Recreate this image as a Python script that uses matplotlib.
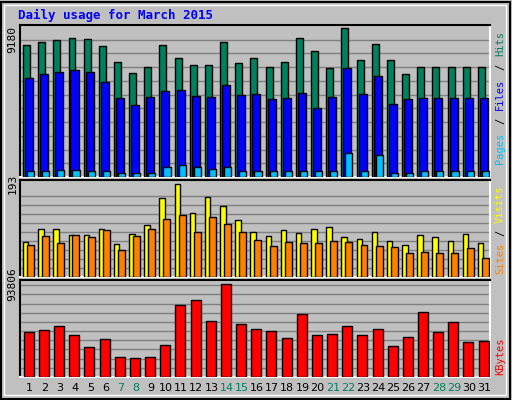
import matplotlib
matplotlib.use("Agg")
import matplotlib.pyplot as plt
import numpy as np

days = list(range(1, 32))
weekends = [7, 8, 14, 15, 21, 22, 28, 29]
hits = [8810, 9010, 9150, 9280, 9210, 8740, 7700, 6970, 7370, 8810, 7940, 7470, 7470, 9010, 7600, 7940, 7340, 7670, 9280, 8440, 7270, 9930, 7840, 8870, 7840, 6900, 7340, 7340, 7340, 7340, 7340]
files = [6600, 6870, 7000, 7140, 7000, 6330, 5260, 4790, 5320, 5730, 5800, 5400, 5320, 6130, 5460, 5530, 5200, 5260, 5600, 4590, 5320, 7270, 5530, 6770, 4860, 5200, 5260, 5260, 5260, 5260, 5260]
pages = [370, 370, 500, 500, 370, 430, 300, 300, 300, 640, 770, 640, 560, 700, 430, 430, 370, 370, 370, 370, 370, 1570, 370, 1500, 300, 300, 370, 370, 370, 370, 370]
visits = [72, 99, 101, 87, 87, 99, 68, 89, 108, 164, 193, 134, 166, 147, 118, 93, 85, 97, 91, 99, 104, 83, 79, 93, 76, 66, 87, 83, 74, 89, 70]
sites = [66, 85, 70, 87, 83, 97, 57, 85, 101, 120, 130, 93, 124, 110, 93, 78, 64, 72, 70, 70, 76, 72, 66, 64, 62, 51, 53, 51, 49, 60, 39]
kbytes = [45400, 47500, 51600, 42300, 29900, 38100, 20600, 19600, 20600, 31900, 73200, 77300, 56700, 93806, 53600, 48500, 46400, 39200, 63900, 42300, 43300, 51600, 42300, 48500, 30900, 40200, 65900, 45400, 55700, 35100, 36100]

GRAY = "#c0c0c0"
GRID = "#808080"
fig = plt.figure(figsize=(5.12, 4.0), dpi=100, facecolor=GRAY)
W, H = 512, 400

def ax_at(x0, y0, x1, y1):
    a = fig.add_axes([x0 / W, 1 - y1 / H, (x1 - x0) / W, (y1 - y0) / H])
    a.set_facecolor(GRAY)
    a.set_xlim(0.5, 31.5)
    a.set_xticks([])
    a.set_yticks([])
    for s in ["top", "left"]:
        a.spines[s].set_color("black")
    for s in ["bottom", "right"]:
        a.spines[s].set_color("white")
    for sp in a.spines.values():
        sp.set_linewidth(1.5)
    return a

x = np.array(days) - 0.5
ek = dict(edgecolor="black", linewidth=1, align="edge", zorder=3)
tkw = dict(rotation=90, va="center", family="DejaVu Sans Mono", fontsize=8)

a1 = ax_at(20, 25, 490, 177)
a1.set_ylim(0, 10150)
for k in range(1, 11):
    a1.axhline(918 * k, color=GRID, lw=1, zorder=1)
a1.bar(x + 0.2, hits, width=0.46, color="#00805c", **ek)
a1.bar(x + 0.33, files, width=0.53, color="#0000ff", **ek)
a1.bar(x + 0.46, pages, width=0.47, color="#00c0ff", **ek)
a1.set_yticks([9180]); a1.set_yticklabels(["9180"], **tkw)
a1.tick_params(length=0, pad=2)

a2 = ax_at(20, 180, 490, 277)
a2.set_ylim(0, 202)
for k in range(1, 10):
    a2.axhline(18.8 * k, color=GRID, lw=1, zorder=1)
a2.bar(x + 0.2, visits, width=0.36, color="#ffff00", **ek)
a2.bar(x + 0.46, sites, width=0.46, color="#ff8000", **ek)
a2.set_yticks([193]); a2.set_yticklabels(["193"], **tkw)
a2.tick_params(length=0, pad=2)

a3 = ax_at(20, 280, 490, 377)
a3.set_ylim(0, 98000)
for k in range(1, 11):
    a3.axhline(9279 * k, color=GRID, lw=1, zorder=1)
a3.bar(x + 0.25, kbytes, width=0.66, color="#ff0000", **ek)
a3.set_yticks([93806]); a3.set_yticklabels(["93806"], **tkw)
a3.tick_params(length=0, pad=2)

for d in days:
    fig.text((22 + 15.16 * (d - 0.5)) / W, 1 - 388 / H, str(d), ha="center", va="center",
             fontsize=8, color="#00805c" if d in weekends else "black", family="DejaVu Sans")

fig.text(18 / W, 1 - 15 / H, "Daily usage for March 2015", color="#0000ff", fontsize=9,
         fontweight="bold", family="DejaVu Sans Mono", va="center")

def vtext(s, yc, c):
    fig.text(500 / W, 1 - yc / H, s, rotation=90, ha="center", va="center", color=c,
             fontsize=7.5, family="DejaVu Sans Mono")

vtext("Pages", 148, "#00c0ff"); vtext("/", 121, "black"); vtext("Files", 94, "#0000ff")
vtext("/", 67, "black"); vtext("Hits", 43, "#00805c")
vtext("Sites", 258, "#ff8000"); vtext("/", 233, "black"); vtext("Visits", 204, "#ffff00")
vtext("KBytes", 356, "#ff0000")

fig.patches.append(plt.Rectangle((1 / W, 1 / H), 1 - 3 / W, 1 - 3 / H, transform=fig.transFigure,
                                 fill=False, edgecolor="black", lw=1.5))
fig.patches.append(plt.Rectangle((4 / W, 5 / H), 1 - 10 / W, 1 - 10 / H, transform=fig.transFigure,
                                 fill=False, edgecolor="white", lw=1))
fig.savefig("out.png", dpi=100, facecolor=GRAY)
